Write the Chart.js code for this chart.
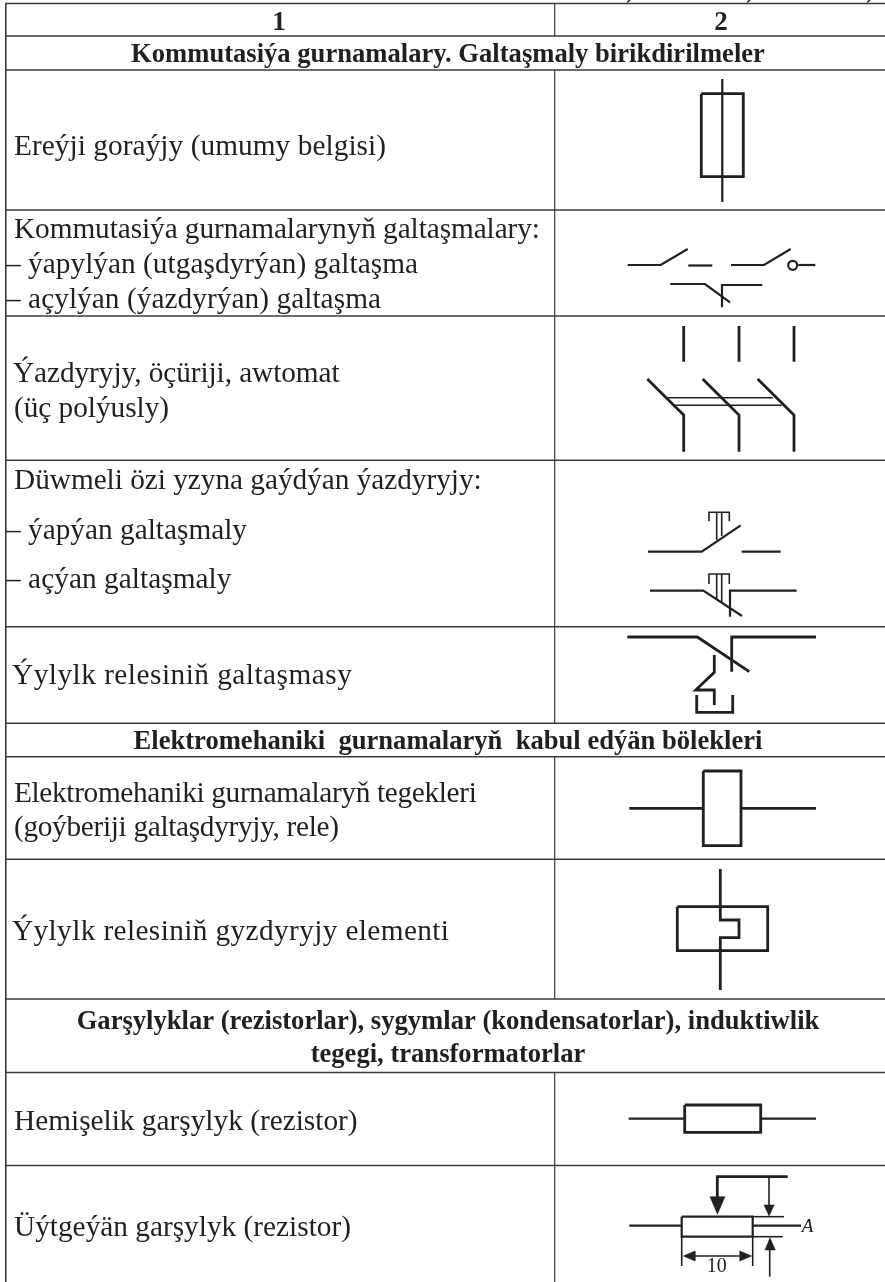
<!DOCTYPE html>
<html>
<head>
<meta charset="utf-8">
<title>Kommutasiýa gurnamalary</title>
<script src="https://cdn.jsdelivr.net/npm/chart.js@4"></script>
<style>
  html, body { margin: 0; background: #fff; }
  canvas { display: block; }
</style>
</head>
<body>
<canvas id="sheet" width="885" height="1282"></canvas>
<script>
// table rules
const rowRules = [3.5, 36, 70, 210, 316, 460.3, 626.7, 723.3, 756.7, 859.3, 999, 1072.5, 1165.5];
const dividerSpans = [[3.5, 36], [70, 723.3], [756.7, 999], [1072.5, 1282]];
const leftBorder = [[5.8, 3], [5.8, 1282]];
const dividerX = 554.7;
const tableLeft = 5;

// text
const headerLabels = [['1', 279, 29.5], ['2', 721, 29.5]];
const sectionLabels = [
  ['Kommutasiýa gurnamalary. Galtaşmaly birikdirilmeler', 448, 61.5],
  ['Elektromehaniki  gurnamalaryň  kabul edýän bölekleri', 448, 749],
  ['Garşylyklar (rezistorlar), sygymlar (kondensatorlar), induktiwlik', 448, 1029],
  ['tegegi, transformatorlar', 448, 1061.5]
];
const rowLabels = [
  ['Ereýji goraýjy (umumy belgisi)', 14, 155],
  ['Kommutasiýa gurnamalarynyň galtaşmalary:', 14, 238],
  ['– ýapylýan (utgaşdyrýan) galtaşma', 6, 273.3],
  ['– açylýan (ýazdyrýan) galtaşma', 6, 308.3],
  ['Ýazdyryjy, öçüriji, awtomat', 13, 381.7],
  ['(üç polýusly)', 14, 416.7],
  ['Düwmeli özi yzyna gaýdýan ýazdyryjy:', 14, 489.3],
  ['– ýapýan galtaşmaly', 6, 539.3],
  ['– açýan galtaşmaly', 6, 588.3],
  ['Ýylylk relesiniň galtaşmasy', 12, 684.3],
  ['Elektromehaniki gurnamalaryň tegekleri', 14, 801.7],
  ['(goýberiji galtaşdyryjy, rele)', 14, 835.7],
  ['Ýylylk relesiniň gyzdyryjy elementi', 12, 940],
  ['Hemişelik garşylyk (rezistor)', 14, 1130],
  ['Üýtgeýän garşylyk (rezistor)', 14, 1236]
];
// where each row label ends in the reference
const rowLabelEnds = [386, 540, 418, 381, 339.6, 169, 481.7, 247, 231.4, 351.8, 476.8, 339, 449, 357.6, 351];
const dimensionLabels = [['10', 716.7, 1272]];
const letterLabels = [['A', 807.5, 1232]];

// clipped descenders from the line above the table
const topScraps = [
  [[630, 0], [627, 2.5]],
  [[750, 0], [747, 2.5]],
  [[870, 0], [867, 2.5]]
];

// symbols
const fuseBox = [[701.3, 93.7], [743.3, 93.7], [743.3, 176.7], [701.3, 176.7], [701.3, 93.7]];
const fuseWire = [[722.3, 79], [722.3, 202]];

const makeLeft = [[627.7, 265], [660.7, 265], [687.7, 249]];
const makeRight = [[688.3, 265.5], [712.3, 265.5]];
const makeLeft2 = [[731, 265], [764, 265], [790.7, 249]];
const makeRight2 = [[798.3, 265], [815.3, 265]];
const makeRing = [[792.7, 265.3]];
const breakBlade = [[670.3, 284], [705, 284], [730, 302.3]];
const breakFixed = [[722, 307.3], [722, 285], [762.3, 285]];

const breakerFixed = [
  [[683.7, 326], [683.7, 361.7]],
  [[739, 326], [739, 361.7]],
  [[794, 326], [794, 361.7]]
];
const breakerBlades = [
  [[647.3, 379], [683.7, 415], [683.7, 451.7]],
  [[702.7, 379], [739, 415], [739, 451.7]],
  [[757.7, 379], [794, 415], [794, 451.7]]
];
const breakerBars = [
  [[666.7, 397.7], [773, 397.7]],
  [[673, 405.3], [781.7, 405.3]]
];

const pushMakeBlade = [[648, 551.7], [701.7, 551.7], [740.7, 525.3]];
const pushMakeFixed = [[741.7, 551.7], [780.7, 551.7]];
const pushMakeCap = [[709, 521.3], [709, 512.3], [729.3, 512.3], [729.3, 521.3]];
const pushMakeStems = [
  [[716.7, 512.3], [716.7, 540]],
  [[721.7, 512.3], [721.7, 536]]
];
const pushBreakBlade = [[650, 590.7], [703.3, 590.7], [742, 616]];
const pushBreakFixed = [[730, 616.7], [730, 590.7], [796.7, 590.7]];
const pushBreakCap = [[709, 584], [709, 574], [729.3, 574], [729.3, 584]];
const pushBreakStems = [
  [[716.7, 574], [716.7, 600]],
  [[721.7, 574], [721.7, 603]]
];

const thermalBlade = [[627.3, 637], [697.3, 637], [749.3, 671.7]];
const thermalFixed = [[731.7, 671.7], [731.7, 637], [816, 637]];
const thermalLink = [[714.3, 655], [714.3, 672.3], [695.7, 690], [714.3, 690], [714.3, 705]];
const thermalCup = [[696.7, 695], [696.7, 712.3], [732.7, 712.3], [732.7, 695]];

const coilBox = [[703.3, 771], [741, 771], [741, 845.7], [703.3, 845.7], [703.3, 771]];
const coilLeads = [
  [[629.3, 808.3], [703.3, 808.3]],
  [[741, 808.3], [816, 808.3]]
];

const heaterBox = [[677.3, 906.7], [767.7, 906.7], [767.7, 950.7], [677.3, 950.7], [677.3, 906.7]];
const heaterWire = [[720.3, 869], [720.3, 920], [739, 920], [739, 937.7], [720.3, 937.7], [720.3, 990]];

const resistorBox = [[684.7, 1105], [760.7, 1105], [760.7, 1132.3], [684.7, 1132.3], [684.7, 1105]];
const resistorLeads = [
  [[628.7, 1118.7], [684.7, 1118.7]],
  [[760.7, 1118.7], [816, 1118.7]]
];

const varBox = [[681.7, 1216.7], [752.7, 1216.7], [752.7, 1236.7], [681.7, 1236.7], [681.7, 1216.7]];
const varLeads = [
  [[629.3, 1225.7], [681.7, 1225.7]],
  [[752.7, 1225.7], [801, 1225.7]]
];
const varWiper = [[787.7, 1176.7], [717.3, 1176.7], [717.3, 1200]];
const varTaps = [
  [[752.7, 1216.7], [784, 1216.7]],
  [[752.7, 1236.7], [782.7, 1236.7]],
  [[769, 1176.7], [769, 1206]],
  [[769.7, 1276.7], [769.7, 1249]]
];
const varDims = [
  [[681.7, 1236.7], [681.7, 1266]],
  [[752.7, 1236.7], [752.7, 1266]],
  [[690, 1256], [745, 1256]]
];
const varHeads = [
  [[710, 1196.7], [725, 1196.7], [717.4, 1214.3], [710, 1196.7]],
  [[764, 1205], [774.3, 1205], [769, 1216], [764, 1205]],
  [[765, 1250], [775.3, 1250], [770, 1237.7], [765, 1250]],
  [[683.3, 1256], [695, 1251], [695, 1261], [683.3, 1256]],
  [[751.7, 1256], [740, 1251], [740, 1261], [751.7, 1256]]
];

const ink = '#231f20';
const ruleInk = '#3c3a3b';

function path(points, width, color) {
  return {
    data: points.map(p => ({ x: p[0], y: p[1] })),
    borderColor: color || ink,
    borderWidth: width,
    borderJoinStyle: 'miter',
    borderCapStyle: 'butt',
    pointRadius: 0,
    fill: false,
    tension: 0,
    clip: false
  };
}

function solid(points) {
  return Object.assign(path(points, 0.5), { fill: 'shape', backgroundColor: ink });
}

const datasets = [];
rowRules.forEach(y => datasets.push(path([[tableLeft, y], [885, y]], 1.4, ruleInk)));
dividerSpans.forEach(s => datasets.push(path([[dividerX, s[0]], [dividerX, s[1]]], 1.2, ruleInk)));
datasets.push(path(leftBorder, 1.6, ruleInk));
topScraps.forEach(s => datasets.push(path(s, 1.5)));

[fuseWire, makeLeft, makeRight, makeLeft2, makeRight2, breakBlade, breakFixed,
  pushMakeBlade, pushMakeFixed, pushBreakBlade, pushBreakFixed, ...resistorLeads, varBox, ...varLeads
].forEach(p => datasets.push(path(p, 2.2)));

[fuseBox, coilBox, ...coilLeads, heaterBox, heaterWire, resistorBox, ...breakerFixed, ...breakerBlades,
  thermalBlade, thermalFixed, thermalLink, thermalCup, varWiper
].forEach(p => datasets.push(path(p, 2.8)));

[...breakerBars, pushMakeCap, pushBreakCap, ...pushMakeStems, ...pushBreakStems, ...varTaps, ...varDims
].forEach(p => datasets.push(path(p, 1.6)));

varHeads.forEach(p => datasets.push(solid(p)));

datasets.push({
  data: makeRing.map(p => ({ x: p[0], y: p[1] })),
  showLine: false,
  pointStyle: 'circle',
  pointRadius: 4.5,
  pointBorderWidth: 2.2,
  pointBorderColor: ink,
  pointBackgroundColor: '#fff',
  clip: false
});

const textPlugin = {
  id: 'cellText',
  afterDraw(chart) {
    const { ctx, scales } = chart;
    const put = (rows, font, align, ends) => {
      ctx.font = font;
      ctx.textAlign = align;
      ctx.textBaseline = 'alphabetic';
      ctx.fillStyle = ink;
      rows.forEach((r, i) => {
        const x = scales.x.getPixelForValue(r[1]);
        ctx.letterSpacing = '0px';
        if (ends) {
          const extra = scales.x.getPixelForValue(ends[i]) - x - ctx.measureText(r[0]).width;
          ctx.letterSpacing = (extra / (r[0].length - 1)).toFixed(3) + 'px';
        }
        ctx.fillText(r[0], x, scales.y.getPixelForValue(r[2]));
      });
      ctx.letterSpacing = '0px';
    };
    ctx.save();
    put(headerLabels, 'bold 27px "Liberation Serif"', 'center');
    put(sectionLabels, 'bold 26.6px "Liberation Serif"', 'center');
    put(rowLabels, '29.3px "Liberation Serif"', 'left', rowLabelEnds);
    put(dimensionLabels, '20px "Liberation Serif"', 'center');
    put(letterLabels, 'italic 19px "Liberation Serif"', 'center');
    ctx.restore();
  }
};

new Chart(document.getElementById('sheet'), {
  type: 'line',
  data: { datasets: datasets },
  plugins: [textPlugin],
  options: {
    responsive: false,
    animation: false,
    layout: { padding: 0, autoPadding: false },
    plugins: { legend: { display: false }, tooltip: { enabled: false } },
    scales: {
      x: { type: 'linear', min: 0, max: 885, display: false },
      y: { type: 'linear', min: 0, max: 1282, reverse: true, display: false }
    }
  }
});
</script>
</body>
</html>
